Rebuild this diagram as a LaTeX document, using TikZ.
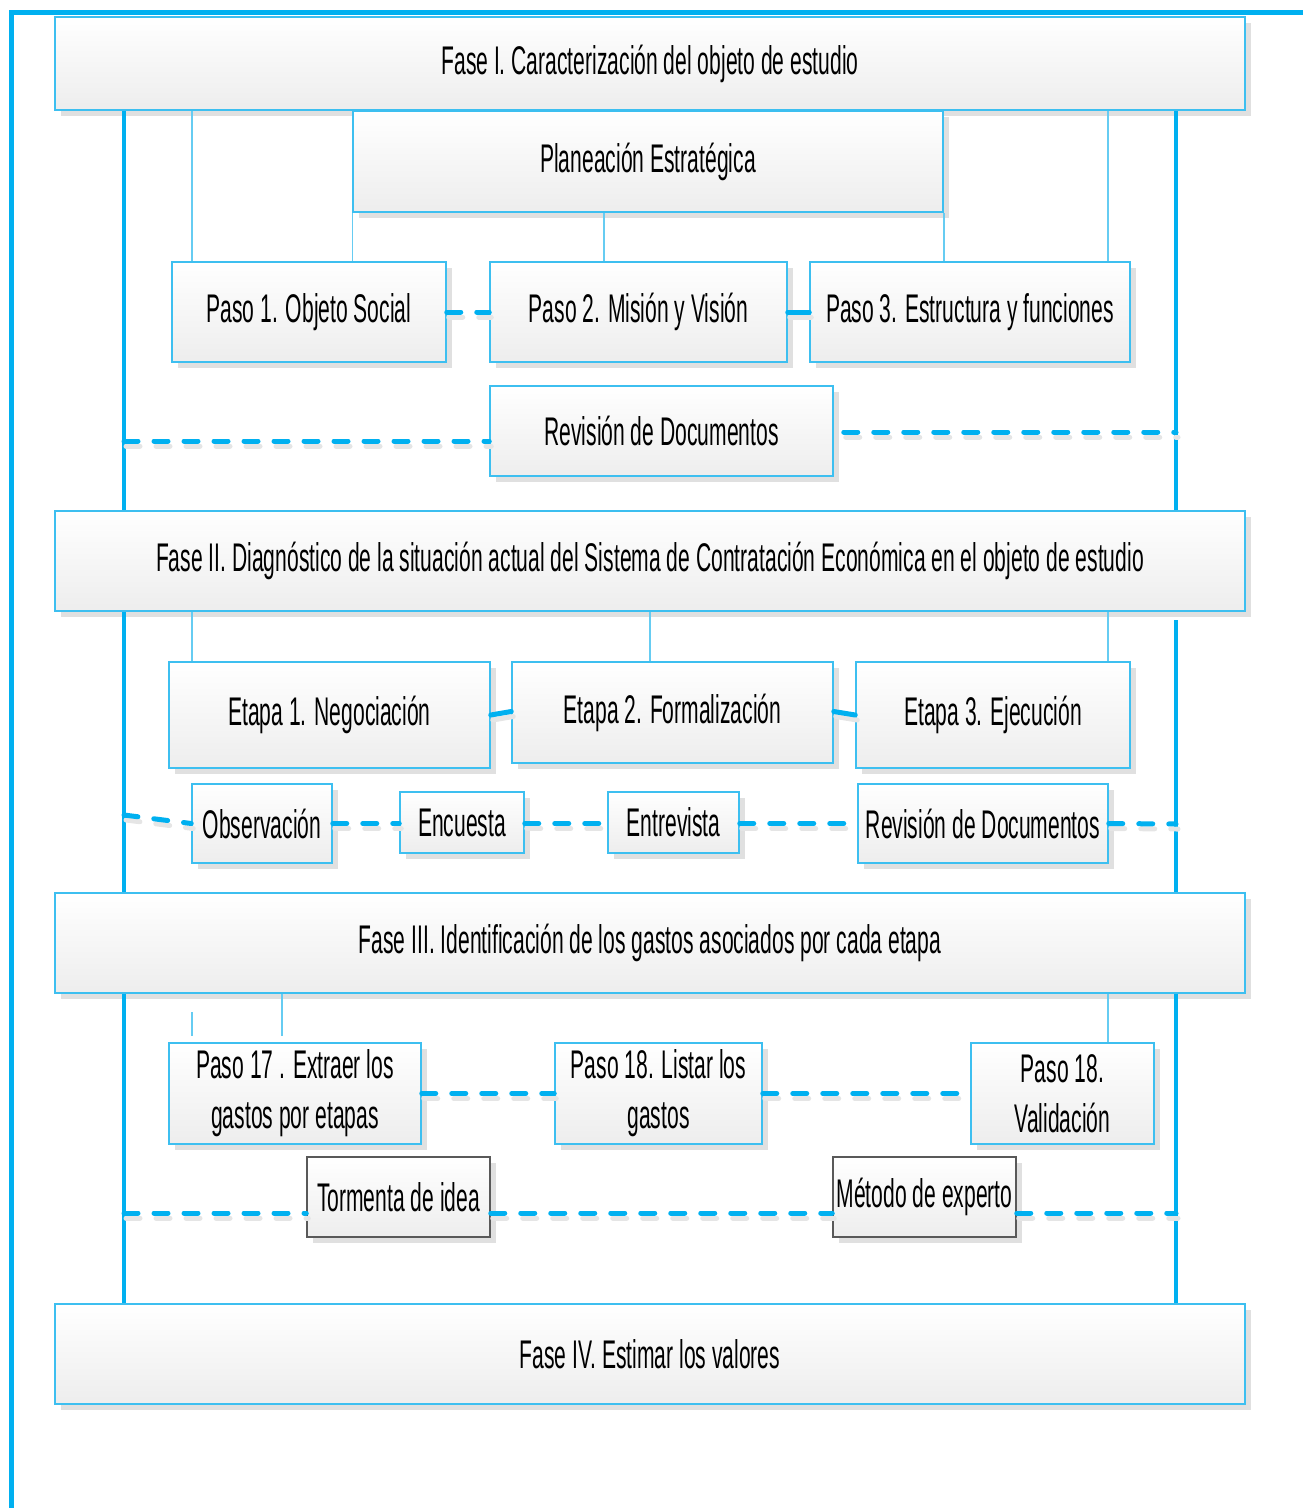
\documentclass[tikz,border=0pt]{standalone}
\usepackage{fontspec}
\setmainfont{Liberation Sans}[FakeStretch=0.527]
\usetikzlibrary{shadows,calc}
\definecolor{cblue}{HTML}{00B0F0}
\definecolor{bborder}{HTML}{3DBFF0}
\definecolor{tline}{HTML}{66CCF2}
\begin{document}
\begin{tikzpicture}[x=1pt,y=-1pt,font=\fontsize{40}{50}\selectfont,
  box/.style={draw=bborder,line width=1.5pt,top color=white,bottom color=black!7,
    inner sep=0pt,align=center,
    drop shadow={shadow xshift=6pt,shadow yshift=-6pt,fill=black!12,opacity=1}},
  gbox/.style={box,draw=black!65},
  frame/.style={cblue,line width=5pt},
  rail/.style={cblue,line width=3.5pt},
  thinline/.style={tline,line width=1.5pt},
  dashline/.style={cblue,line width=5pt,dash pattern=on 14pt off 16pt,line cap=round,
    preaction={draw=black!10,line width=5pt,dash pattern=on 14pt off 16pt,line cap=round,
      transform canvas={xshift=2pt,yshift=-5pt}}},
  solidlink/.style={cblue,line width=5pt,line cap=round,
    preaction={draw=black!10,line width=5pt,line cap=round,
      transform canvas={xshift=2pt,yshift=-5pt}}}]
\useasboundingbox (0,0) rectangle (1303,1508);
% outer frame
\coordinate (fa) at (1303,12);
\coordinate (fb) at (11,12);
\coordinate (fc) at (11,1508);
\draw[frame] (fa) -- (fb) -- (fc);

% boxes
\node[box,minimum width=1190pt,minimum height=93pt] (f1) at (650,63.5) {Fase I. Caracterización del objeto de estudio};
\node[box,minimum width=590pt,minimum height=101pt] (plan) at (648,161.5) {Planeación Estratégica};
\node[box,minimum width=274pt,minimum height=100pt] (p1) at (309,312) {Paso 1. Objeto Social};
\node[box,minimum width=297pt,minimum height=100pt] (p2) at (638.5,312) {Paso 2. Misión y Visión};
\node[box,minimum width=320pt,minimum height=100pt] (p3) at (970,312) {Paso 3. Estructura y funciones};
\node[box,minimum width=343pt,minimum height=90pt] (rev1) at (661.5,431) {Revisión de Documentos};

\node[box,minimum width=1190pt,minimum height=100pt] (f2) at (650,561) {Fase II. Diagnóstico de la situación actual del Sistema de Contratación Económica en el objeto de estudio};
\node[box,minimum width=321pt,minimum height=106pt] (e1) at (329.5,715) {Etapa 1. Negociación};
\node[box,minimum width=321pt,minimum height=101pt] (e2) at (672.5,712.5) {Etapa 2. Formalización};
\node[box,minimum width=274pt,minimum height=106pt] (e3) at (993,715) {Etapa 3. Ejecución};
\node[box,minimum width=140pt,minimum height=79pt] (obs) at (262,823.5) {Observación};
\node[box,minimum width=124pt,minimum height=61pt] (enc) at (462,822.5) {Encuesta};
\node[box,minimum width=131pt,minimum height=61pt] (ent) at (673.5,822.5) {Entrevista};
\node[box,minimum width=250pt,minimum height=79pt] (rev2) at (983,823.5) {Revisión de Documentos};

\node[box,minimum width=1190pt,minimum height=100pt] (f3) at (650,943) {Fase III. Identificación de los gastos asociados por cada etapa};
\node[box,minimum width=252pt,minimum height=101pt] (s17) at (295,1093.5) {Paso 17 . Extraer los\\gastos por etapas};
\node[box,minimum width=207pt,minimum height=101pt] (s18) at (658.5,1093.5) {Paso 18. Listar los\\gastos};
\node[box,minimum width=183pt,minimum height=101pt] (val) at (1062.5,1093.5) {Paso 18.\\Validación};
\node[gbox,minimum width=183pt,minimum height=80pt] (tor) at (398.5,1197) {Tormenta de idea};
\node[gbox,minimum width=183pt,minimum height=80pt] (met) at (924.5,1197) {Método de experto};

\node[box,minimum width=1190pt,minimum height=100pt] (f4) at (650,1354) {Fase IV. Estimar los valores};

% rail coordinates
\coordinate (xl) at (124,0);
\coordinate (xr) at (1176,0);
\coordinate (r2top) at (1176,620);
\draw[rail] (f1.south -| xl) -- (f2.north -| xl);
\draw[rail] (f1.south -| xr) -- (f2.north -| xr);
\draw[rail] (f2.south -| xl) -- (f3.north -| xl);
\draw[rail] (r2top) -- (f3.north -| xr);
\draw[rail] (f3.south -| xl) -- (f4.north -| xl);
\draw[rail] (f3.south -| xr) -- (f4.north -| xr);

% thin connectors
\coordinate (t192) at (192,0);
\coordinate (t604) at (604,0);
\coordinate (t650) at (650,0);
\coordinate (t1108) at (1108,0);
\coordinate (t282) at (282,0);
\coordinate (frag) at (192,1012);
\draw[thinline] (f1.south -| t192) -- (p1.north -| t192);
\draw[thinline] (plan.south west) -- (p1.north -| plan.south west);
\draw[thinline] (plan.south -| t604) -- (p2.north -| t604);
\draw[thinline] (plan.south east) -- (p3.north -| plan.south east);
\draw[thinline] (f1.south -| t1108) -- (p3.north -| t1108);
\draw[thinline] (f2.south -| t192) -- (e1.north -| t192);
\draw[thinline] (f2.south -| t650) -- (e2.north -| t650);
\draw[thinline] (f2.south -| t1108) -- (e3.north -| t1108);
\draw[thinline] (f3.south -| t282) -- ($(s17.north -| t282)+(0,-6)$);
\draw[thinline] (frag) -- ($(s17.north -| t192)+(0,-6)$);
\draw[thinline] (f3.south -| t1108) -- (val.north -| t1108);

% dashed links, phase I
\draw[dashline] (p1.east) -- (p2.west);
\draw[solidlink] (p2.east) -- (p3.west);
\coordinate (d1) at (124,441);
\draw[dashline] (d1) -- (d1 -| rev1.west);
\coordinate (d2) at (1176,432);
\draw[dashline] ($(rev1.east)+(10,1)$) -- (d2);

% phase II
\draw[solidlink] (e1.east) -- ($(e2.west)+(0,-1)$);
\draw[solidlink] ($(e2.east)+(0,-1)$) -- (e3.west);
\coordinate (d3) at (124,815);
\draw[dashline] (d3) -- (obs.west);
\draw[dashline] (obs.east) -- (enc.west |- obs.east);
\draw[dashline] (enc.east |- obs.east) -- (ent.west |- obs.east);
\draw[dashline] (ent.east |- obs.east) -- (rev2.west);
\coordinate (d4) at (1176,824);
\draw[dashline] (rev2.east) -- (d4);

% phase III
\draw[dashline] (s17.east) -- (s18.west);
\draw[dashline] (s18.east) -- (val.west);
\coordinate (d5) at (124,1213);
\draw[dashline] (d5) -- (d5 -| tor.west);
\draw[dashline] (d5 -| tor.east) -- (d5 -| met.west);
\coordinate (d6) at (1176,1213);
\draw[dashline] (d5 -| met.east) -- (d6);
\end{tikzpicture}
\end{document}
